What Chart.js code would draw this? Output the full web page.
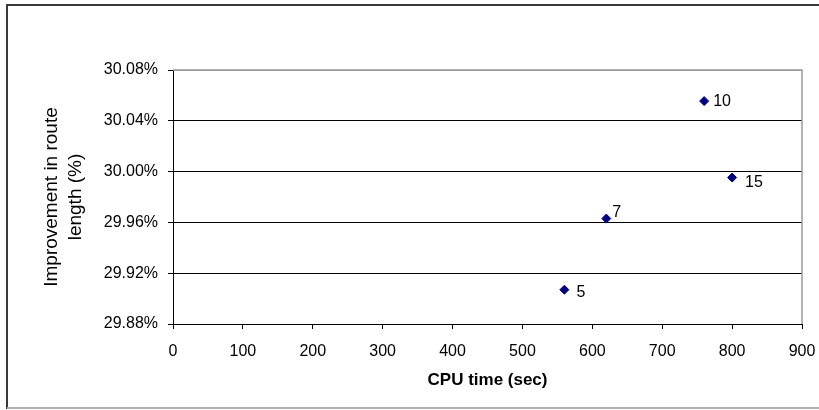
<!DOCTYPE html>
<html>
<head>
<meta charset="utf-8">
<script src="https://cdn.jsdelivr.net/npm/chart.js@4/dist/chart.umd.min.js"></script>
<style>
	html, body { margin: 0; padding: 0; background: #fff; }
	#wrap { width: 819px; height: 410px; position: relative; }
</style>
</head>
<body>
<div id="wrap"><canvas id="chart"></canvas></div>
<script>
// ---- data
const cpuTime = [ 560, 620, 760, 800 ];
const improvement = [ 29.907, 29.963, 30.0555, 29.9953 ];
const pointLabels = [ '5', '7', '10', '15' ];
const xTicks = [ 0, 100, 200, 300, 400, 500, 600, 700, 800, 900 ];
const yTicks = [ 29.88, 29.92, 29.96, 30.00, 30.04, 30.08 ];

// label nudges (px) from each marker: [dx to left edge, dy to centre]
const labelNudge = [ [ 12, 3 ], [ 6, -6 ], [ 9, 0 ], [ 13, 5 ] ];

const FONT = 'Arial, "Liberation Sans", sans-serif';

// ---- frame round the whole picture + plot area border
const framePlugin = {
	id: 'frame',
	beforeDraw( chart ) {
		const ctx = chart.ctx;
		ctx.save();
		ctx.fillStyle = '#fff';
		ctx.fillRect( 0, 0, chart.width, chart.height );
		ctx.lineWidth = 2;
		ctx.strokeStyle = '#3a3a3a';
		ctx.beginPath();
		ctx.moveTo( 7, 409 );
		ctx.lineTo( 7, 5 );
		ctx.lineTo( chart.width, 5 );
		ctx.stroke();
		ctx.strokeStyle = '#b0b0b0';
		ctx.beginPath();
		ctx.moveTo( 7, 408 );
		ctx.lineTo( chart.width, 408 );
		ctx.stroke();
		ctx.restore();
	},
	afterDatasetsDraw( chart ) {
		const { left, top, right, bottom } = chart.chartArea;
		const ctx = chart.ctx;
		ctx.save();
		ctx.strokeStyle = '#9a9a9a';
		ctx.lineWidth = 1.5;
		ctx.beginPath();
		ctx.moveTo( left, top );
		ctx.lineTo( right, top );
		ctx.lineTo( right, bottom );
		ctx.stroke();

		// point labels
		const meta = chart.getDatasetMeta( 0 );
		ctx.fillStyle = '#000';
		ctx.font = '16px ' + FONT;
		ctx.textAlign = 'left';
		ctx.textBaseline = 'middle';
		meta.data.forEach( ( pt, i ) => {
			ctx.fillText( pointLabels[ i ], pt.x + labelNudge[ i ][ 0 ], pt.y + labelNudge[ i ][ 1 ] );
		} );
		ctx.restore();
	}
};

new Chart( document.getElementById( 'chart' ), {
	type: 'scatter',
	data: {
		datasets: [ {
			data: cpuTime.map( ( x, i ) => ( { x, y: improvement[ i ] } ) ),
			pointStyle: 'rectRot',
			pointRadius: 4.5,
			pointHoverRadius: 4.5,
			backgroundColor: '#000080',
			borderColor: '#000080',
			borderWidth: 1
		} ]
	},
	options: {
		responsive: true,
		maintainAspectRatio: false,
		animation: false,
		events: [],
		layout: { padding: { left: 8, top: 70, right: 17, bottom: 10 } },
		plugins: {
			legend: { display: false },
			tooltip: { enabled: false }
		},
		scales: {
			x: {
				type: 'linear',
				min: 0,
				max: 900,
				afterBuildTicks: ( axis ) => {
					axis.ticks = xTicks.map( ( v ) => ( { value: v } ) );
				},
				afterFit: ( axis ) => {
					axis.height = 76;
					axis.paddingLeft = 0;
					axis.paddingRight = 0;
				},
				border: { display: true, color: '#000', width: 1 },
				grid: {
					display: true,
					drawOnChartArea: false,
					drawTicks: true,
					tickLength: 5,
					color: '#000',
					tickColor: '#000'
				},
				ticks: {
					color: '#000',
					padding: 13,
					maxRotation: 0,
					autoSkip: false,
					font: { family: FONT, size: 16 },
					callback: ( v ) => String( v )
				},
				title: {
					display: true,
					text: 'CPU time (sec)',
					color: '#000',
					font: { family: FONT, size: 17, weight: 'bold' },
					padding: { top: 0, bottom: 9 }
				}
			},
			y: {
				type: 'linear',
				min: 29.88,
				max: 30.08,
				afterBuildTicks: ( axis ) => {
					axis.ticks = yTicks.map( ( v ) => ( { value: v } ) );
				},
				afterFit: ( axis ) => {
					axis.width = 165;
					axis.paddingTop = 0;
					axis.paddingBottom = 0;
				},
				border: { display: true, color: '#000', width: 1 },
				grid: {
					display: true,
					drawTicks: true,
					tickLength: 5,
					color: ( c ) => ( c.index === yTicks.length - 1 ? '#9a9a9a' : '#000' ),
					tickColor: '#000'
				},
				ticks: {
					color: '#000',
					padding: 10,
					autoSkip: false,
					font: { family: FONT, size: 16 },
					callback: ( v ) => v.toFixed( 2 ) + '%'
				},
				title: {
					display: true,
					text: [ 'Improvement in route', 'length (%)' ],
					color: '#000',
					font: { family: FONT, size: 19, lineHeight: 1.3 },
					padding: { top: 31, bottom: 0 }
				}
			}
		}
	},
	plugins: [ framePlugin ]
} );
</script>
</body>
</html>
